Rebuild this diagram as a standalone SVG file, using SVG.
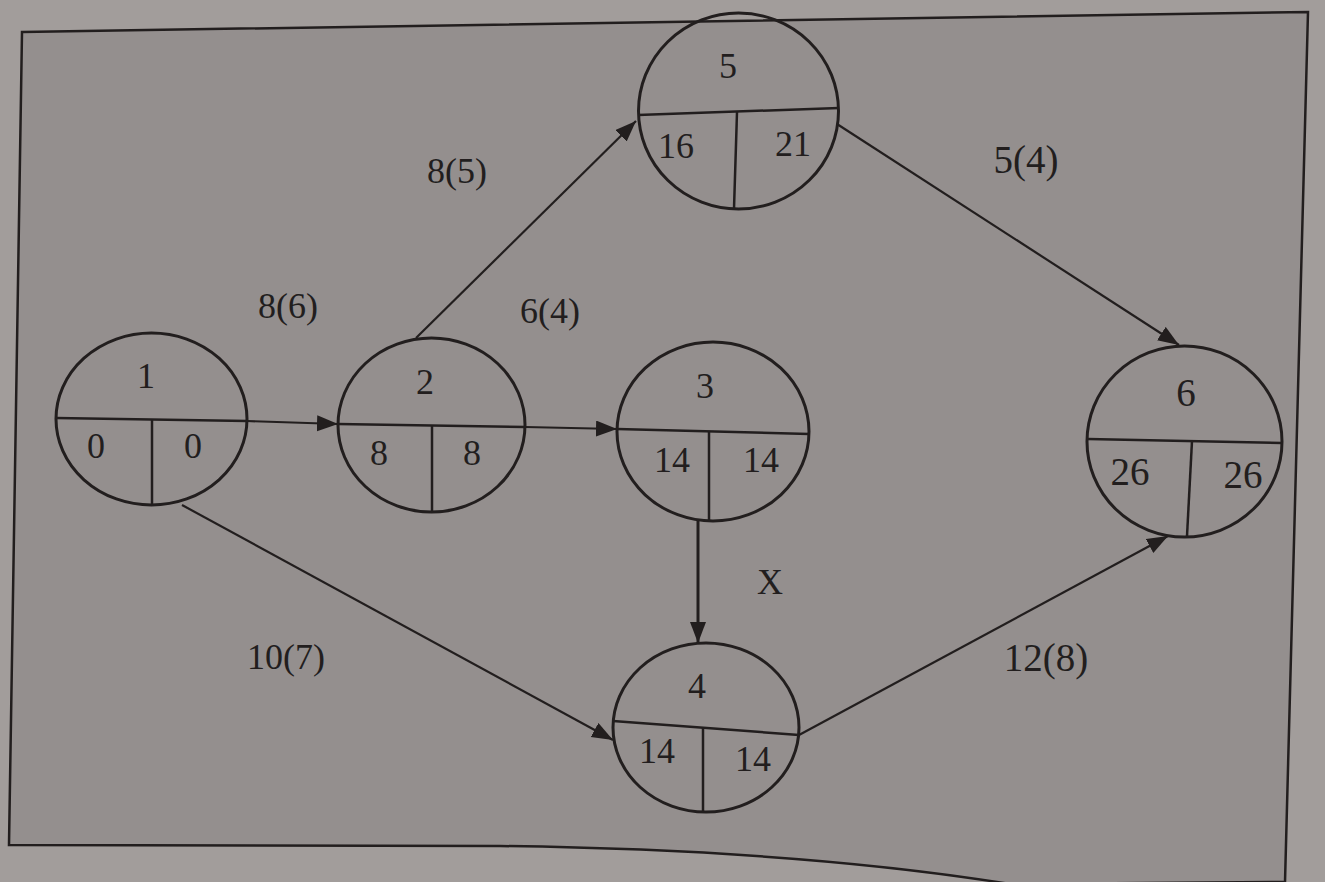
<svg xmlns="http://www.w3.org/2000/svg" width="1325" height="882" viewBox="0 0 1325 882">
<style>
  .node ellipse{fill:none;stroke:#221e1e;stroke-width:3}
  .node line{stroke:#221e1e;stroke-width:2.5}
  text{font-family:"Liberation Serif","Times New Roman",serif;fill:#221e1e;text-anchor:middle;font-size:36px}
  .big{font-size:39px}
  .edge{stroke:#221e1e;stroke-width:2.2;fill:none;marker-end:url(#ah)}
</style>
<defs>
  <marker id="ah" markerUnits="userSpaceOnUse" markerWidth="22" markerHeight="18" refX="21" refY="8" orient="auto">
    <path d="M0,0 L21,8 L0,16 z" fill="#221e1e"/>
  </marker>
</defs>
<rect x="0" y="0" width="1325" height="882" fill="#a29d9b"/>
<path d="M22,32 L1308,12 L1285,882 L1010,884 Q800,850 500,846 L9,845 Z" fill="#948f8e" stroke="#221e1e" stroke-width="2.5"/>

<g id="connectors">
  <line class="edge" x1="247" y1="421" x2="338" y2="424"/>
  <line class="edge" x1="525" y1="427" x2="617" y2="429"/>
  <line class="edge" x1="416" y1="338" x2="636" y2="121"/>
  <line class="edge" x1="837" y1="124" x2="1179" y2="345"/>
  <line class="edge" x1="698" y1="521" x2="698" y2="643" style="stroke-width:3"/>
  <line class="edge" x1="182" y1="505" x2="613" y2="740"/>
  <line class="edge" x1="799" y1="735" x2="1168" y2="536"/>
  <text x="457" y="183">8(5)</text>
  <text x="288" y="318">8(6)</text>
  <text x="550" y="323">6(4)</text>
  <text class="big" x="1026" y="173">5(4)</text>
  <text x="770" y="594">X</text>
  <text x="286" y="669">10(7)</text>
  <text class="big" x="1046" y="671">12(8)</text>
</g>

<g id="node1" class="node">
  <ellipse cx="151.5" cy="419" rx="95.5" ry="86"/>
  <line x1="56" y1="418" x2="247" y2="421"/>
  <line x1="152" y1="420" x2="152" y2="505"/>
  <text x="146" y="388">1</text>
  <text x="96" y="458">0</text>
  <text x="193" y="458">0</text>
</g>
<g id="node2" class="node">
  <ellipse cx="431.5" cy="425" rx="93.5" ry="87"/>
  <line x1="338" y1="424" x2="525" y2="427"/>
  <line x1="432" y1="425.5" x2="432" y2="512"/>
  <text x="425" y="394">2</text>
  <text x="379" y="465">8</text>
  <text x="472" y="465">8</text>
</g>
<g id="node3" class="node">
  <ellipse cx="713" cy="431.5" rx="96" ry="89.5"/>
  <line x1="617" y1="429" x2="809" y2="434"/>
  <line x1="709" y1="431.5" x2="709" y2="521"/>
  <text x="705" y="398">3</text>
  <text x="672" y="472">14</text>
  <text x="761" y="472">14</text>
</g>
<g id="node5" class="node">
  <ellipse cx="738.5" cy="111" rx="100" ry="98"/>
  <line x1="638" y1="115" x2="839" y2="108"/>
  <line x1="737" y1="112" x2="734" y2="209"/>
  <text x="728" y="78">5</text>
  <text x="676" y="158">16</text>
  <text x="793" y="156">21</text>
</g>
<g id="node4" class="node">
  <ellipse cx="706" cy="727.5" rx="93" ry="84.5"/>
  <line x1="613" y1="721" x2="799" y2="735"/>
  <line x1="703" y1="728" x2="703" y2="812"/>
  <text x="697" y="698">4</text>
  <text x="657" y="763">14</text>
  <text x="753" y="771">14</text>
</g>
<g id="node6" class="node">
  <ellipse cx="1184.5" cy="441.5" rx="97.5" ry="95.5"/>
  <line x1="1088" y1="439" x2="1282" y2="443"/>
  <line x1="1192" y1="441" x2="1187" y2="536"/>
  <text class="big" x="1186" y="406">6</text>
  <text class="big" x="1130" y="485">26</text>
  <text class="big" x="1243" y="488">26</text>
</g>
</svg>
